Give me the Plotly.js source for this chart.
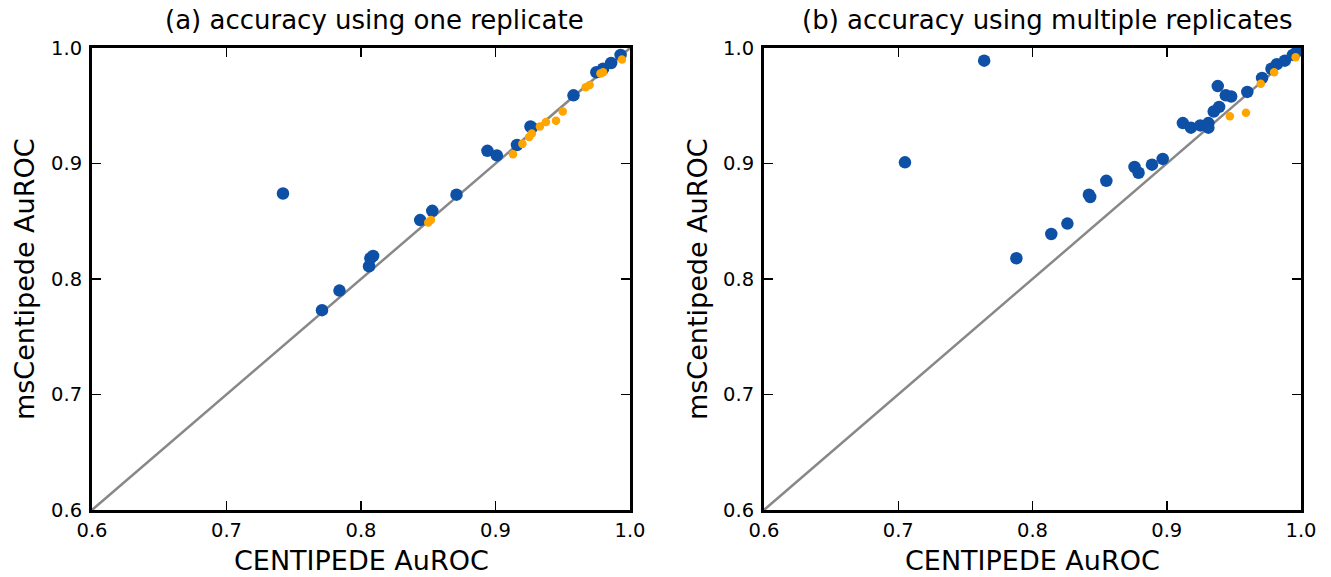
<!DOCTYPE html>
<html>
<head>
<meta charset="utf-8">
<script src="https://cdn.plot.ly/plotly-3.0.1.min.js"></script>
<style>html,body{margin:0;padding:0;background:#fff;}#chart{width:1331px;height:577px;}</style>
</head>
<body>
<div id="chart"></div>
<script>
// (a) one replicate
const aBlueX = [0.742, 0.771, 0.784, 0.806, 0.807, 0.809, 0.844, 0.853, 0.871, 0.894, 0.901, 0.916, 0.926, 0.927, 0.958, 0.975, 0.980, 0.986, 0.993];
const aBlueY = [0.874, 0.773, 0.790, 0.811, 0.818, 0.820, 0.851, 0.859, 0.873, 0.911, 0.907, 0.916, 0.932, 0.931, 0.959, 0.979, 0.982, 0.987, 0.994];
const aOrangeX = [0.850, 0.852, 0.913, 0.920, 0.925, 0.927, 0.933, 0.9375, 0.945, 0.950, 0.967, 0.970, 0.978, 0.980, 0.994];
const aOrangeY = [0.849, 0.851, 0.908, 0.917, 0.923, 0.926, 0.932, 0.936, 0.937, 0.945, 0.966, 0.968, 0.978, 0.979, 0.990];
// (b) multiple replicates
const bBlueX = [0.705, 0.764, 0.788, 0.814, 0.826, 0.842, 0.843, 0.855, 0.876, 0.879, 0.889, 0.897, 0.912, 0.918, 0.925, 0.931, 0.931, 0.935, 0.939, 0.938, 0.944, 0.948, 0.960, 0.971, 0.978, 0.982, 0.988, 0.994, 0.997];
const bBlueY = [0.901, 0.989, 0.818, 0.839, 0.848, 0.873, 0.871, 0.885, 0.897, 0.892, 0.899, 0.904, 0.935, 0.931, 0.933, 0.935, 0.931, 0.945, 0.949, 0.967, 0.959, 0.958, 0.962, 0.974, 0.982, 0.986, 0.989, 0.994, 0.997];
const bOrangeX = [0.947, 0.959, 0.970, 0.980, 0.996];
const bOrangeY = [0.941, 0.944, 0.969, 0.979, 0.992];
// reference diagonal y = x
const diag = [0.6, 1.0];
const tickVals = [0.6, 0.7, 0.8, 0.9, 1.0];
const tickText = ['0.6', '0.7', '0.8', '0.9', '1.0'];

const BLUE = '#0d50a6', ORANGE = '#ffa500';
function traces(xa, ya, bx, by, ox, oy) {
  return [
    {x: diag, y: diag, xaxis: xa, yaxis: ya, mode: 'lines', line: {color: '#888888', width: 2.5}, hoverinfo: 'skip'},
    {x: bx, y: by, xaxis: xa, yaxis: ya, mode: 'markers', marker: {color: BLUE, size: 12.5, line: {width: 0}}},
    {x: ox, y: oy, xaxis: xa, yaxis: ya, mode: 'markers', marker: {color: ORANGE, size: 8.5, line: {width: 0}}}
  ];
}
const data = [].concat(
  traces('x', 'y', aBlueX, aBlueY, aOrangeX, aOrangeY),
  traces('x2', 'y2', bBlueX, bBlueY, bOrangeX, bOrangeY)
);
const W = 1331, H = 577;
function ax(dom, anchor, isX) {
  return {
    domain: dom, anchor: anchor, range: [0.6, 1.0], autorange: false,
    tickvals: tickVals, ticktext: tickText, ticks: 'inside', ticklen: 9, tickwidth: 1.5, tickcolor: '#000',
    showline: true, linecolor: '#000', linewidth: 3, mirror: 'ticks', showgrid: false, zeroline: false,
    ticklabelstandoff: isX ? 1 : 3,
    tickfont: {family: 'DejaVu Sans', size: 19.5, color: '#000'}
  };
}
const yDom = [1 - 510 / H, 1 - 48 / H];
const x1Dom = [92 / W, 630 / W], x2Dom = [764 / W, 1301 / W];
const layout = {
  width: W, height: H, margin: {l: 0, r: 0, t: 0, b: 0}, showlegend: false,
  paper_bgcolor: '#fff', plot_bgcolor: '#fff',
  font: {family: 'DejaVu Sans', color: '#000'},
  xaxis: ax(x1Dom, 'y', true), yaxis: ax(yDom, 'x', false),
  xaxis2: ax(x2Dom, 'y2', true), yaxis2: ax(yDom, 'x2', false),
  annotations: [
    {text: '(a) accuracy using one replicate', x: 374 / W, y: 1 - 20 / H, xref: 'paper', yref: 'paper', showarrow: false, font: {size: 26}, xanchor: 'center', yanchor: 'middle'},
    {text: '(b) accuracy using multiple replicates', x: 1047 / W, y: 1 - 20 / H, xref: 'paper', yref: 'paper', showarrow: false, font: {size: 26}, xanchor: 'center', yanchor: 'middle'},
    {text: 'CENTIPEDE AuROC', x: (x1Dom[0] + x1Dom[1]) / 2, y: 1 - 560 / H, xref: 'paper', yref: 'paper', showarrow: false, font: {size: 27}, xanchor: 'center', yanchor: 'middle'},
    {text: 'CENTIPEDE AuROC', x: (x2Dom[0] + x2Dom[1]) / 2, y: 1 - 560 / H, xref: 'paper', yref: 'paper', showarrow: false, font: {size: 27}, xanchor: 'center', yanchor: 'middle'},
    {text: 'msCentipede AuROC', x: 25 / W, y: (yDom[0] + yDom[1]) / 2, xref: 'paper', yref: 'paper', showarrow: false, font: {size: 27}, textangle: -90, xanchor: 'center', yanchor: 'middle'},
    {text: 'msCentipede AuROC', x: 698 / W, y: (yDom[0] + yDom[1]) / 2, xref: 'paper', yref: 'paper', showarrow: false, font: {size: 27}, textangle: -90, xanchor: 'center', yanchor: 'middle'}
  ]
};
Plotly.newPlot('chart', data, layout, {displayModeBar: false, staticPlot: true});
</script>
</body>
</html>
